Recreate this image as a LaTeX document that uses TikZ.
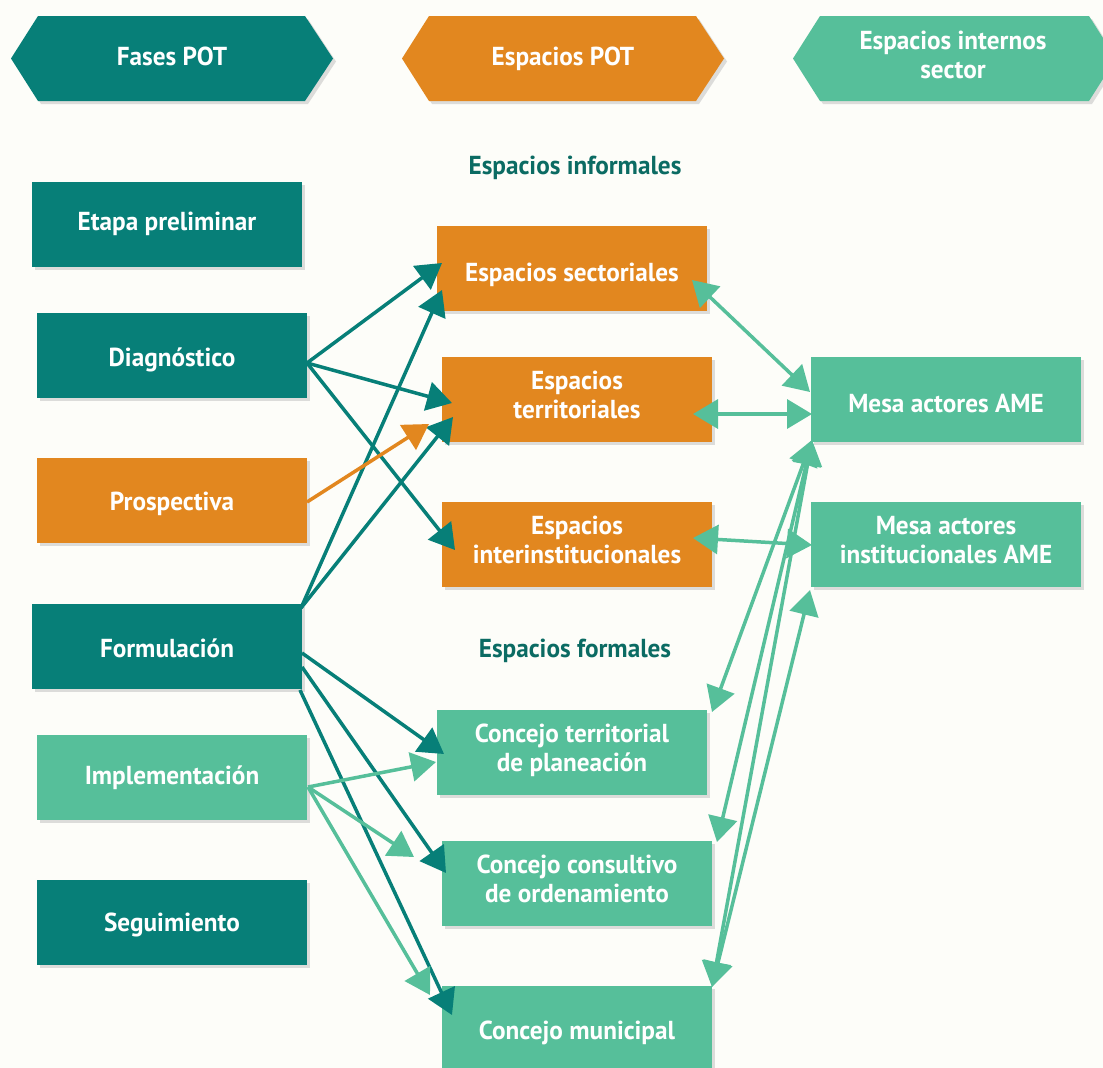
\documentclass[tikz,border=0pt]{standalone}
\usepackage{fontspec}
\setmainfont{PT Sans}[FakeStretch=0.97]
\usetikzlibrary{arrows.meta,shadows,calc}
\definecolor{cteal}{HTML}{077F78}
\definecolor{corange}{HTML}{E2871F}
\definecolor{cgreen}{HTML}{56BF9A}
\definecolor{clabel}{HTML}{0B6B63}
\definecolor{cbg}{HTML}{FDFDF9}
\definecolor{cshadow}{HTML}{DCDCDA}
\begin{document}
\begin{tikzpicture}[x=1pt,y=-1pt,
  >={Triangle[length=25pt,width=29pt]},
  txt/.style={text=white,font=\fontsize{26}{29}\selectfont\bfseries,align=center,inner sep=0pt},
  bl/.style={text height=#1,text depth=0pt},
  shd/.style={drop shadow={shadow xshift=3pt,shadow yshift=-3pt,fill=cshadow,opacity=1}},
  box/.style={txt,shd,rectangle,minimum width=270pt,minimum height=85pt},
  lbl/.style={text=clabel,font=\fontsize{26}{29}\selectfont\bfseries,inner sep=0pt,text height=0pt,text depth=0pt},
  arr/.style={line width=3.5pt}
]
\fill[cbg] (0,0) rectangle (1103,1068);
\useasboundingbox (0,0) rectangle (1103,1068);

% headers
\path[fill=cteal,shd] (11,58.5) -- (38,16) -- (305,16) -- (333,58.5) -- (305,101) -- (38,101) -- cycle;
\path[fill=corange,shd] (402,58.5) -- (429,16) -- (696,16) -- (724,58.5) -- (696,101) -- (429,101) -- cycle;
\path[fill=cgreen,shd] (793,58.5) -- (820,16) -- (1089,16) -- (1116,58.5) -- (1089,101) -- (820,101) -- cycle;
\node[txt,bl=14pt] (h1) at (172,58.5) {Fases POT};
\node[txt,bl=14pt] (h2) at (563,58.5) {Espacios POT};
\node[txt,bl=39pt] (h3) at (953,58.5) {Espacios internos\\sector};

% section labels
\node[lbl] (linf) at (575,174) {Espacios informales};
\node[lbl] (lfor) at (575,657) {Espacios formales};

% left column
\node[box,bl=12.9pt,fill=cteal] (etapa) at (167,224.5) {Etapa preliminar};
\node[box,bl=22.6pt,fill=cteal] (diag) at (172,355.5) {Diagnóstico};
\node[box,bl=20pt,fill=corange] (prosp) at (172,500.5) {Prospectiva};
\node[box,bl=21.2pt,fill=cteal] (form) at (167,646.5) {Formulación};
\node[box,bl=13.2pt,fill=cgreen] (impl) at (172,777.5) {Implementación};
\node[box,bl=17.2pt,fill=cteal] (segu) at (172,922.5) {Seguimiento};

% middle column
\node[box,bl=26.2pt,fill=corange] (sect) at (572,268.5) {Espacios sectoriales};
\node[box,bl=38pt,fill=corange] (terr) at (577,399.5) {Espacios\\territoriales};
\node[box,bl=38pt,fill=corange] (inter) at (577,544.5) {Espacios\\interinstitucionales};
\node[box,bl=37pt,fill=cgreen] (ctp) at (572,752.5) {Concejo territorial\\de planeación};
\node[box,bl=37pt,fill=cgreen] (cco) at (577,883.5) {Concejo consultivo\\de ordenamiento};
\node[box,bl=22.8pt,fill=cgreen] (cmu) at (577,1028.5) {Concejo municipal};

% right column
\node[box,bl=26.2pt,fill=cgreen] (mesa) at (946,399.5) {Mesa actores AME};
\node[box,bl=37pt,fill=cgreen] (mesai) at (946,544.5) {Mesa actores\\institucionales AME};

% teal connectors
\draw[arr,->,cteal] ($(diag.center)+(135,7.5)$) -- ($(sect.center)+(-130,-5.5)$);
\draw[arr,->,cteal] ($(diag.center)+(135,7.5)$) -- ($(terr.center)+(-125,3.5)$);
\draw[arr,->,cteal] ($(diag.center)+(135,7.5)$) -- ($(inter.center)+(-122,5.5)$);
\draw[arr,->,cteal] ($(form.center)+(134,-38.5)$) -- ($(sect.center)+(-130,21.5)$);
\draw[arr,->,cteal] ($(form.center)+(134,-38.5)$) -- ($(terr.center)+(-124,17.5)$);
\draw[arr,->,cteal] ($(form.center)+(135,6.5)$) -- ($(ctp.center)+(-128,1.5)$);
\draw[arr,->,cteal] ($(form.center)+(135,20.5)$) -- ($(cco.center)+(-131,-10.5)$);
\draw[arr,->,cteal] ($(form.center)+(133,43.5)$) -- ($(cmu.center)+(-125,-13.5)$);

% orange connector
\draw[arr,->,corange] ($(prosp.center)+(135,1.5)$) -- ($(terr.center)+(-148,24.5)$);

% light green connectors
\draw[arr,->,cgreen] ($(impl.center)+(136,9.5)$) -- ($(ctp.center)+(-136,9.5)$);
\draw[arr,->,cgreen] ($(impl.center)+(136,9.5)$) -- ($(cco.center)+(-163,-26.5)$);
\draw[arr,->,cgreen] ($(impl.center)+(136,9.5)$) -- ($(cmu.center)+(-147,-33.5)$);

\draw[arr,<->,cgreen] ($(sect.center)+(120,11.5)$) -- ($(mesa.center)+(-136,-7.5)$);
\draw[arr,<->,cgreen] ($(terr.center)+(116,14.5)$) -- ($(mesa.center)+(-134,14.5)$);
\draw[arr,<->,cgreen] ($(inter.center)+(116,-6.5)$) -- ($(mesai.center)+(-134,0.5)$);
\draw[arr,<->,cgreen] ($(mesa.center)+(-134,40.5)$) -- ($(ctp.center)+(140,-40.5)$);
\draw[arr,<->,cgreen] ($(mesa.center)+(-134,40.5)$) -- ($(cco.center)+(140,-41.5)$);
\draw[arr,<->,cgreen] ($(mesa.center)+(-134,40.5)$) -- ($(cmu.center)+(135,-41.5)$);
\draw[arr,<->,cgreen] ($(mesai.center)+(-136,45.5)$) -- ($(cmu.center)+(135,-41.5)$);
\end{tikzpicture}
\end{document}
